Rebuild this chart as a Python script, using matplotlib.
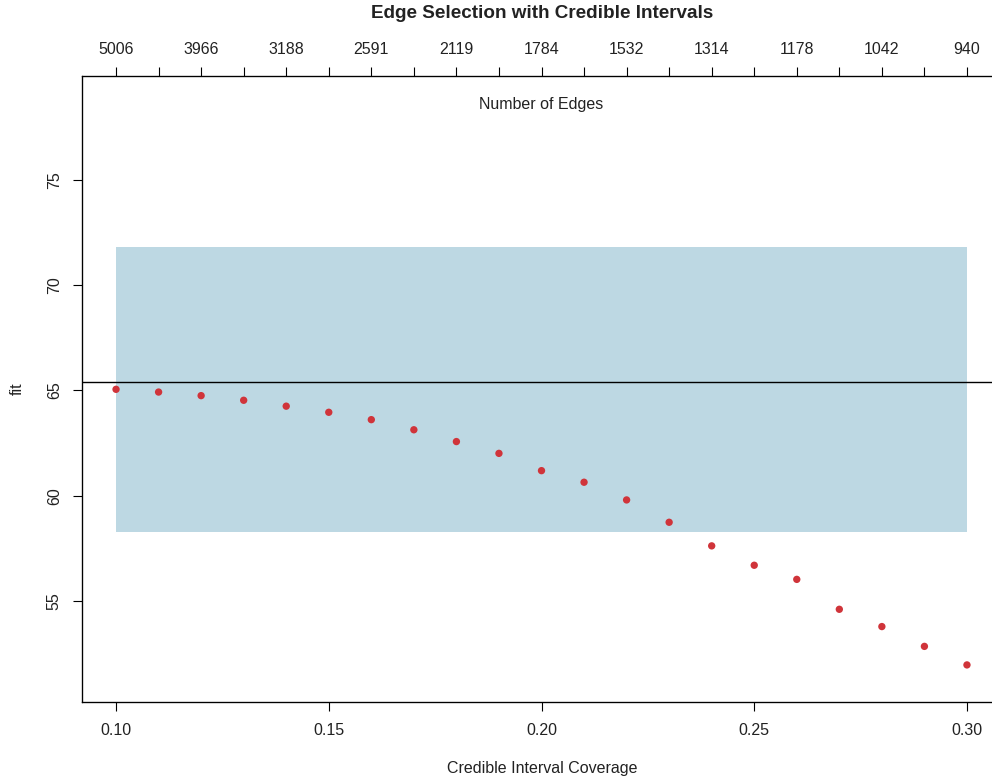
import matplotlib
matplotlib.use("Agg")
import matplotlib.pyplot as plt

plt.rcParams['font.family'] = ['Liberation Sans', 'DejaVu Sans']

# ---- data ----
coverage = [0.10, 0.11, 0.12, 0.13, 0.14, 0.15, 0.16, 0.17, 0.18, 0.19, 0.20,
            0.21, 0.22, 0.23, 0.24, 0.25, 0.26, 0.27, 0.28, 0.29, 0.30]
fit = [65.05, 64.92, 64.75, 64.53, 64.25, 63.96, 63.61, 63.13, 62.57, 62.01, 61.19,
       60.64, 59.80, 58.74, 57.62, 56.70, 56.03, 54.61, 53.79, 52.85, 51.97]
edge_labels = ["5006", "", "3966", "", "3188", "", "2591", "", "2119", "", "1784",
               "", "1532", "", "1314", "", "1178", "", "1042", "", "940"]
band_x = [0.10, 0.30]
band_low = 58.28
band_high = 71.81
reference_fit = 65.42
x_ticks = [0.10, 0.15, 0.20, 0.25, 0.30]
x_tick_labels = ["0.10", "0.15", "0.20", "0.25", "0.30"]
y_ticks = [55, 60, 65, 70, 75]

W, H = 992, 781
fig = plt.figure(figsize=(W / 100, H / 100), dpi=100)

left, right, bottom, top = 82, 1001, 702, 76
ax = fig.add_axes([left / W, (H - bottom) / H, (right - left) / W, (bottom - top) / H])
ax.set_xlim(0.092, 0.308)
ax.set_ylim(50.21, 79.92)

ax.fill_between(band_x, band_low, band_high, color='#BDD8E3', linewidth=0, zorder=1)
ax.axhline(reference_fit, color='black', linewidth=1.0, zorder=2)
ax.scatter(coverage, fit, s=28, color='#D0343A', edgecolors='none', zorder=3)

txt_col = '#222222'
fs = 11.5
ax.set_xticks(x_ticks)
ax.set_xticklabels(x_tick_labels)
ax.set_yticks(y_ticks)
ax.set_yticklabels([str(v) for v in y_ticks], rotation=90, va='center')
ax.tick_params(axis='x', length=6.5, width=0.8, pad=8.5, labelsize=fs, labelcolor=txt_col)
ax.tick_params(axis='y', length=6.5, width=0.8, pad=8, labelsize=fs, labelcolor=txt_col)
for s in ax.spines.values():
    s.set_linewidth(0.9)

ax2 = ax.twiny()
ax2.set_xlim(ax.get_xlim())
ax2.set_xticks(coverage)
ax2.set_xticklabels(edge_labels)
ax2.tick_params(axis='x', length=6.5, width=0.8, pad=7.5, labelsize=fs, labelcolor=txt_col)

ax.text(0.20, (bottom - 104) / (bottom - top), "Number of Edges", ha='center', va='center',
        fontsize=fs, color=txt_col, transform=ax.get_xaxis_transform())

fig.text(542 / W, 1 - 14 / H, "Edge Selection with Credible Intervals", ha='center', va='center',
         fontsize=13.6, fontweight='bold', color=txt_col)
fig.text(542 / W, 1 - 769 / H, "Credible Interval Coverage", ha='center', va='center',
         fontsize=fs, color=txt_col)
fig.text(17 / W, 1 - 389 / H, "fit", ha='center', va='center', rotation=90,
         fontsize=fs, color=txt_col)

fig.savefig("out.png", dpi=100)
